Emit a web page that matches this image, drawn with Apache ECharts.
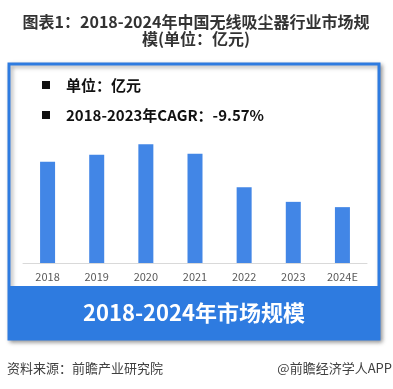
<!DOCTYPE html>
<html>
<head>
<meta charset="utf-8">
<script src="https://cdn.jsdelivr.net/npm/echarts@6/dist/echarts.min.js"></script>
<style>
html,body{margin:0;padding:0;background:#fff;}
#chart{width:393px;height:389px;}
</style>
</head>
<body>
<div id="chart"></div>
<script>
const categories = ['2018','2019','2020','2021','2022','2023','2024E'];
const marketSize = [172, 184, 202, 186, 129, 104, 95];
const titleLine1 = '图表1：2018-2024年中国无线吸尘器行业市场规';
const titleLine2 = '模(单位：亿元)';
const unitText = '单位：亿元';
const cagrText = '2018-2023年CAGR：-9.57%';
const bannerText = '2018-2024年市场规模';
const sourceText = '资料来源：前瞻产业研究院';
const creditText = '@前瞻经济学人APP';

const FONT = '"Noto Sans CJK SC", "Noto Sans", sans-serif';
const chart = echarts.init(document.getElementById('chart'), null, {renderer:'canvas'});
chart.setOption({
  backgroundColor:'#ffffff',
  animation:false,
  graphic:[
    {type:'text',style:{x:196,y:22,text:titleLine1,textAlign:'center',textVerticalAlign:'middle',fontFamily:FONT,fontSize:16,fontWeight:'bold',fill:'#333333'}},
    {type:'text',style:{x:196,y:39,text:titleLine2,textAlign:'center',textVerticalAlign:'middle',fontFamily:FONT,fontSize:16,fontWeight:'bold',fill:'#333333'}},
    {type:'rect',z:-10,shape:{x:9,y:64,width:370,height:275},
     style:{fill:'#ffffff',stroke:'#2e7be0',lineWidth:3,shadowBlur:4,shadowOffsetX:2,shadowOffsetY:2,shadowColor:'rgba(0,0,0,0.35)'}},
    {type:'rect',z:-9,shape:{x:9,y:286,width:370,height:53},style:{fill:'#2e7be0'}},
    {type:'text',z:10,style:{x:194,y:313,text:bannerText,textAlign:'center',textVerticalAlign:'middle',
      fontFamily:FONT,fontSize:22,fontWeight:'bold',fill:'#ffffff'}},
    {type:'rect',shape:{x:42,y:81,width:8,height:8},style:{fill:'#111111'}},
    {type:'rect',shape:{x:42,y:111,width:8,height:8},style:{fill:'#111111'}},
    {type:'text',style:{x:66,y:85,text:unitText,textVerticalAlign:'middle',fontFamily:FONT,fontSize:15,fontWeight:'bold',fill:'#111111'}},
    {type:'text',style:{x:66,y:115,text:cagrText,textVerticalAlign:'middle',fontFamily:FONT,fontSize:15,fontWeight:'bold',fill:'#111111'}},
    {type:'text',style:{x:7,y:368,text:sourceText,textVerticalAlign:'middle',fontFamily:FONT,fontSize:13,fill:'#404040'}},
    {type:'text',style:{x:392,y:368,text:creditText,textAlign:'right',textVerticalAlign:'middle',fontFamily:FONT,fontSize:13,fill:'#404040'}}
  ],
  grid:{left:23,right:26,top:116,bottom:126,containLabel:false},
  xAxis:{
    type:'category',data:categories,
    axisLine:{show:true,lineStyle:{color:'#d9d9d9',width:1}},
    axisTick:{show:false},
    axisLabel:{color:'#595959',fontSize:11,fontFamily:FONT,margin:8}
  },
  yAxis:{type:'value',min:0,max:250,show:false,splitLine:{show:false}},
  series:[{type:'bar',data:marketSize,barWidth:15,itemStyle:{color:'#4286e6'}}]
});
</script>
</body>
</html>
